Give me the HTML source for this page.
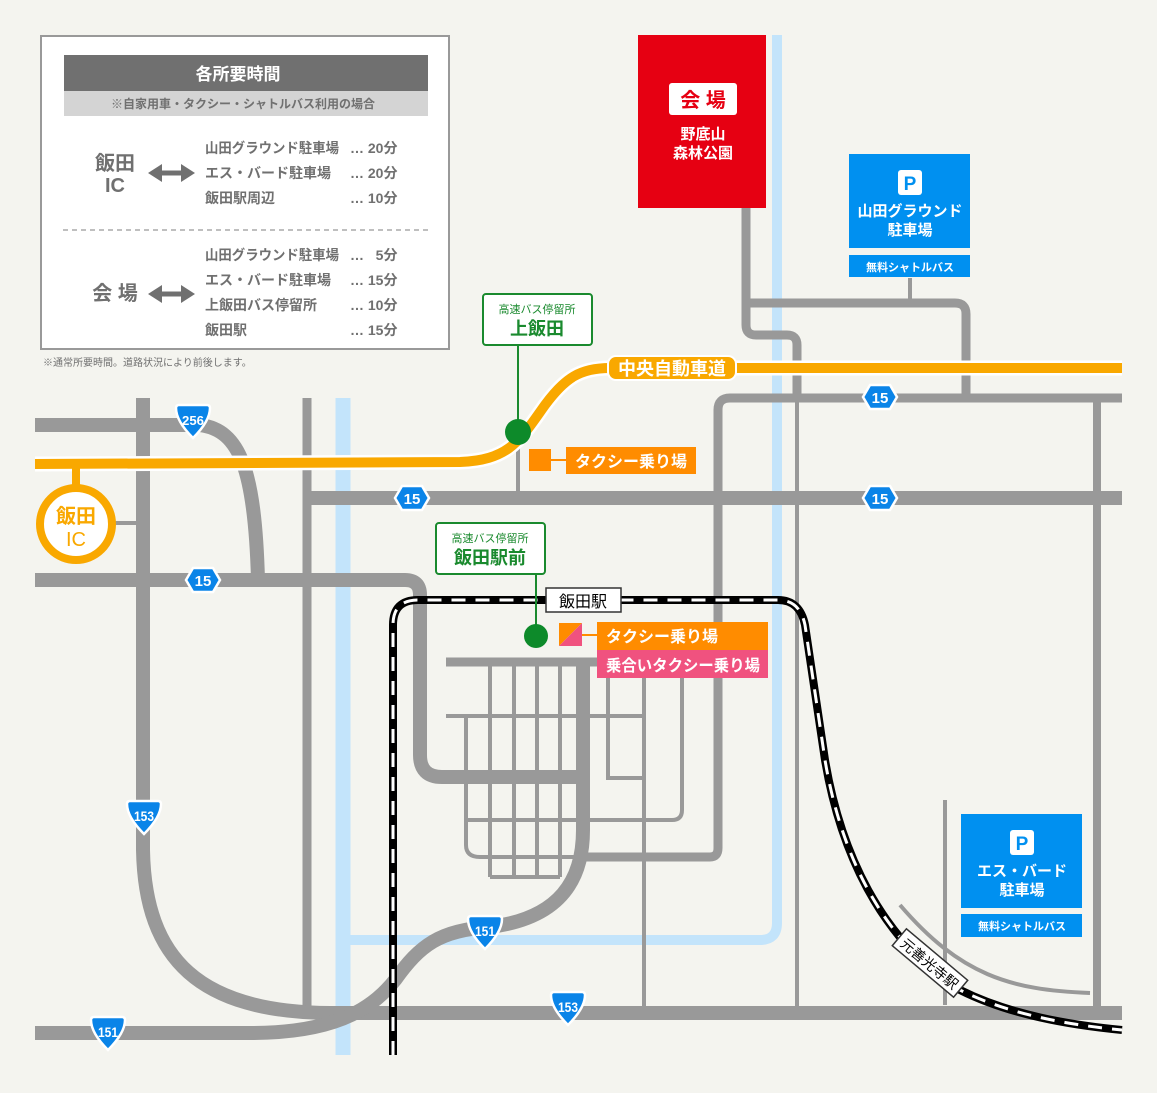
<!DOCTYPE html>
<html><head><meta charset="utf-8"><style>
html,body{margin:0;padding:0;background:#f4f4ef}
svg{display:block}
text{font-family:"Liberation Sans","Noto Sans CJK JP",sans-serif}
</style></head><body>
<svg width="1157" height="1093" viewBox="0 0 1157 1093" xmlns="http://www.w3.org/2000/svg">
<defs>
<g id="hex"><polygon points="-10,-12 10,-12 17,0 10,12 -10,12 -17,0" fill="#0a84e8" stroke="#fff" stroke-width="2.5"/></g>
<g id="shd"><path d="M-17,-13 Q-17,-16 -14,-16 L14,-16 Q17,-16 17,-13 Q17,0 0,17 Q-17,0 -17,-13Z" fill="#0a84e8" stroke="#fff" stroke-width="2.5"/></g>
</defs>
<rect width="1157" height="1093" fill="#f4f4ef"/>

<!-- rivers -->
<g fill="none" stroke="#c3e4fb">
<path d="M343 398 L343 1055" stroke-width="15"/>
<path d="M350 940 L760 940 Q777 940 777 923 L777 35" stroke-width="10"/>
</g>

<!-- thin roads -->
<g fill="none" stroke="#999" stroke-linecap="butt">
<g stroke-width="4">
<path d="M446 716 L644 716"/>
<path d="M490 662 L490 877 M514 662 L514 877 M537 662 L537 877 M560 662 L560 877 M490 877 L560 877"/>
<path d="M466 716 L466 845 Q466 857 480 857 L583 857"/>
<path d="M466 820 L672 820 Q682 820 682 810 L682 662"/>
<path d="M608 662 L608 778 L644 778"/>
<path d="M644 662 L644 1013"/>
<path d="M797 398 L797 1013"/>
<path d="M518 440 L518 498"/>
<path d="M910 278 L910 302"/>
<path d="M945 800 L945 1005"/>
<path d="M900 905 C960 975 1010 990 1090 993"/>
<path d="M113 523 L150 523"/>
</g>
<path d="M446 662 L640 662" stroke-width="9"/>
<path d="M583 857 L710 857 Q718 857 718 848 L718 410 Q718 398 730 398 L1122 398" stroke-width="9"/>
<path d="M746 207 L746 325 Q746 335 756 335 L787 335 Q797 335 797 345 L797 398" stroke-width="9"/>
<path d="M746 303 L955 303 Q966 303 966 314 L966 398" stroke-width="9"/>
<path d="M1097 398 L1097 1013" stroke-width="8"/>
<path d="M307 398 L307 1013" stroke-width="9"/>
<g stroke-width="14">
<path d="M35 425 L200 425 C240 430 255 470 258 580"/>
<path d="M143 398 L143 850 C145 960 200 1012 330 1013 L1122 1013"/>
<path d="M307 498 L1122 498"/>
<path d="M35 580 L405 580 Q420 580 420 595 L420 755 Q420 777 442 777 L583 777"/>
<path d="M35 1033 L250 1033 C330 1033 370 1012 395 980 C420 945 440 930 490 927 C560 918 583 880 583 830 L583 662"/>
</g>
</g>

<!-- railway -->
<path d="M393 1055 L393 625 Q393 600 418 600 L778 600 Q800 600 805 625 L825 760 C840 850 880 940 960 990 C1010 1015 1070 1025 1122 1030" fill="none" stroke="#000" stroke-width="8"/>
<path d="M393 1055 L393 625 Q393 600 418 600 L778 600 Q800 600 805 625 L825 760 C840 850 880 940 960 990 C1010 1015 1070 1025 1122 1030" fill="none" stroke="#fff" stroke-width="3" stroke-dasharray="14 10"/>

<!-- expressway -->
<path d="M35 464 L460 462 C510 460 520 440 545 405 C565 378 580 368 610 368 L1122 368" fill="none" stroke="#fff" stroke-width="15"/>
<path d="M35 464 L460 462 C510 460 520 440 545 405 C565 378 580 368 610 368 L1122 368" fill="none" stroke="#f9a800" stroke-width="10"/>
<rect x="608" y="356" width="128" height="24" rx="8" fill="#f9a800" stroke="#fff" stroke-width="2"/>
<text x="672" y="375" font-size="18" font-weight="bold" fill="#fff" text-anchor="middle">中央自動車道</text>

<!-- IC -->
<path d="M76 464 L76 490" stroke="#f9a800" stroke-width="8"/>
<circle cx="76" cy="524" r="36" fill="#fff" stroke="#f9a800" stroke-width="8"/>
<text x="76" y="523" font-size="20" font-weight="bold" fill="#f9a800" text-anchor="middle">飯田</text>
<text x="76" y="546" font-size="20" fill="#f9a800" text-anchor="middle">IC</text>

<!-- shields -->
<g font-size="15" font-weight="bold" fill="#fff" text-anchor="middle">
<g transform="translate(193,421)"><use href="#shd"/><text x="-11" y="4" font-size="13" text-anchor="start" textLength="22" lengthAdjust="spacingAndGlyphs">256</text></g>
<g transform="translate(412,498)"><use href="#hex"/><text y="6">15</text></g>
<g transform="translate(203,580)"><use href="#hex"/><text y="6">15</text></g>
<g transform="translate(880,397)"><use href="#hex"/><text y="6">15</text></g>
<g transform="translate(880,498)"><use href="#hex"/><text y="6">15</text></g>
<g transform="translate(144,817)"><use href="#shd"/><text x="-10" y="4" font-size="14" text-anchor="start" textLength="20" lengthAdjust="spacingAndGlyphs">153</text></g>
<g transform="translate(568,1008)"><use href="#shd"/><text x="-10" y="4" font-size="14" text-anchor="start" textLength="20" lengthAdjust="spacingAndGlyphs">153</text></g>
<g transform="translate(485,932)"><use href="#shd"/><text x="-10" y="4" font-size="14" text-anchor="start" textLength="20" lengthAdjust="spacingAndGlyphs">151</text></g>
<g transform="translate(108,1033)"><use href="#shd"/><text x="-10" y="4" font-size="14" text-anchor="start" textLength="20" lengthAdjust="spacingAndGlyphs">151</text></g>
</g>

<!-- bus stops -->
<path d="M518 345 L518 432 M536 574 L536 636" stroke="#1a8a2e" stroke-width="2"/>
<circle cx="518" cy="432" r="13" fill="#0d8a2a"/>
<circle cx="536" cy="636" r="12" fill="#0d8a2a"/>
<rect x="483" y="294" width="109" height="51" rx="3" fill="#fff" stroke="#1a8a2e" stroke-width="2"/>
<text x="537" y="313" font-size="11" fill="#1a8a2e" text-anchor="middle">高速バス停留所</text>
<text x="537" y="335" font-size="18" font-weight="bold" fill="#1a8a2e" text-anchor="middle">上飯田</text>
<rect x="436" y="523" width="109" height="51" rx="3" fill="#fff" stroke="#1a8a2e" stroke-width="2"/>
<text x="490" y="542" font-size="11" fill="#1a8a2e" text-anchor="middle">高速バス停留所</text>
<text x="490" y="564" font-size="18" font-weight="bold" fill="#1a8a2e" text-anchor="middle">飯田駅前</text>

<!-- taxi -->
<rect x="529" y="449" width="22" height="22" fill="#ff8c00"/>
<path d="M551 460 L566 460" stroke="#ff8c00" stroke-width="2"/>
<rect x="566" y="447" width="130" height="27" fill="#ff8c00"/>
<text x="631" y="467" font-size="16" font-weight="bold" fill="#fff" text-anchor="middle">タクシー乗り場</text>
<polygon points="559,623 582,623 559,646" fill="#ff8c00"/>
<polygon points="582,623 582,646 559,646" fill="#f0527f"/>
<path d="M582 635 L597 635" stroke="#ff8c00" stroke-width="2"/>
<rect x="597" y="622" width="171" height="28" fill="#ff8c00"/>
<rect x="597" y="650" width="171" height="28" fill="#f0527f"/>
<text x="606" y="642" font-size="16" font-weight="bold" fill="#fff">タクシー乗り場</text>
<text x="606" y="671" font-size="16" font-weight="bold" fill="#fff" textLength="154" lengthAdjust="spacingAndGlyphs">乗合いタクシー乗り場</text>

<!-- stations -->
<rect x="546" y="588" width="75" height="24" fill="#fff" stroke="#333" stroke-width="1.5"/>
<text x="583" y="607" font-size="16" fill="#000" text-anchor="middle">飯田駅</text>
<g transform="translate(930,963) rotate(40)">
<rect x="-40" y="-11" width="80" height="22" fill="#fff" stroke="#333" stroke-width="1.5"/>
<text y="6" font-size="14" fill="#000" text-anchor="middle">元善光寺駅</text>
</g>

<!-- venue -->
<rect x="638" y="35" width="128" height="173" fill="#e60012"/>
<rect x="669" y="83" width="68" height="32" rx="3" fill="#fff"/>
<text x="703" y="107" font-size="20" font-weight="bold" fill="#e60012" text-anchor="middle">会 場</text>
<text x="703" y="139" font-size="15" font-weight="bold" fill="#fff" text-anchor="middle">野底山</text>
<text x="703" y="158" font-size="15" font-weight="bold" fill="#fff" text-anchor="middle">森林公園</text>

<!-- parking 1 -->
<rect x="849" y="154" width="121" height="94" fill="#0090f0"/>
<rect x="898" y="170" width="24" height="25" rx="3" fill="#fff"/>
<text x="910" y="190" font-size="19" font-weight="bold" fill="#0090f0" text-anchor="middle">P</text>
<text x="910" y="216" font-size="15" font-weight="bold" fill="#fff" text-anchor="middle">山田グラウンド</text>
<text x="910" y="235" font-size="15" font-weight="bold" fill="#fff" text-anchor="middle">駐車場</text>
<rect x="849" y="255" width="121" height="22" fill="#0090f0"/>
<text x="910" y="271" font-size="11" font-weight="bold" fill="#fff" text-anchor="middle">無料シャトルバス</text>
<!-- parking 2 -->
<rect x="961" y="814" width="121" height="94" fill="#0090f0"/>
<rect x="1010" y="830" width="24" height="25" rx="3" fill="#fff"/>
<text x="1022" y="850" font-size="19" font-weight="bold" fill="#0090f0" text-anchor="middle">P</text>
<text x="1022" y="876" font-size="15" font-weight="bold" fill="#fff" text-anchor="middle">エス・バード</text>
<text x="1022" y="895" font-size="15" font-weight="bold" fill="#fff" text-anchor="middle">駐車場</text>
<rect x="961" y="914" width="121" height="23" fill="#0090f0"/>
<text x="1022" y="930" font-size="11" font-weight="bold" fill="#fff" text-anchor="middle">無料シャトルバス</text>

<!-- legend -->
<rect x="41" y="36" width="408" height="313" fill="#fff" stroke="#999" stroke-width="2"/>
<rect x="64" y="55" width="364" height="36" fill="#707070"/>
<text x="238" y="80" font-size="17" font-weight="bold" fill="#fff" text-anchor="middle">各所要時間</text>
<rect x="64" y="91" width="364" height="25" fill="#d4d4d4"/>
<text x="243" y="108" font-size="12" font-weight="bold" fill="#707070" text-anchor="middle">※自家用車・タクシー・シャトルバス利用の場合</text>
<g fill="#707070" font-weight="bold">
<text x="115" y="170" font-size="20" text-anchor="middle">飯田</text>
<text x="115" y="192" font-size="20" text-anchor="middle">IC</text>
<text x="115" y="300" font-size="20" text-anchor="middle">会 場</text>
<g font-size="14">
<text x="205" y="153" textLength="134" lengthAdjust="spacingAndGlyphs">山田グラウンド駐車場</text><text x="350" y="153">… 20分</text>
<text x="205" y="178">エス・バード駐車場</text><text x="350" y="178">… 20分</text>
<text x="205" y="203">飯田駅周辺</text><text x="350" y="203">… 10分</text>
<text x="205" y="260" textLength="134" lengthAdjust="spacingAndGlyphs">山田グラウンド駐車場</text><text x="350" y="260">…&#160;&#160;&#160;5分</text>
<text x="205" y="285">エス・バード駐車場</text><text x="350" y="285">… 15分</text>
<text x="205" y="310">上飯田バス停留所</text><text x="350" y="310">… 10分</text>
<text x="205" y="335">飯田駅</text><text x="350" y="335">… 15分</text>
</g>
</g>
<g fill="#707070">
<path d="M156 173 L188 173 M156 294 L188 294" stroke="#707070" stroke-width="5"/>
<polygon points="148,173 162,164 162,182"/><polygon points="195,173 181,164 181,182"/>
<polygon points="148,294 162,285 162,303"/><polygon points="195,294 181,285 181,303"/>
</g>
<path d="M63 230 L428 230" stroke="#aaa" stroke-width="1.5" stroke-dasharray="5 4"/>
<text x="43" y="366" font-size="10" fill="#707070">※通常所要時間。道路状況により前後します。</text>
</svg>
</body></html>
